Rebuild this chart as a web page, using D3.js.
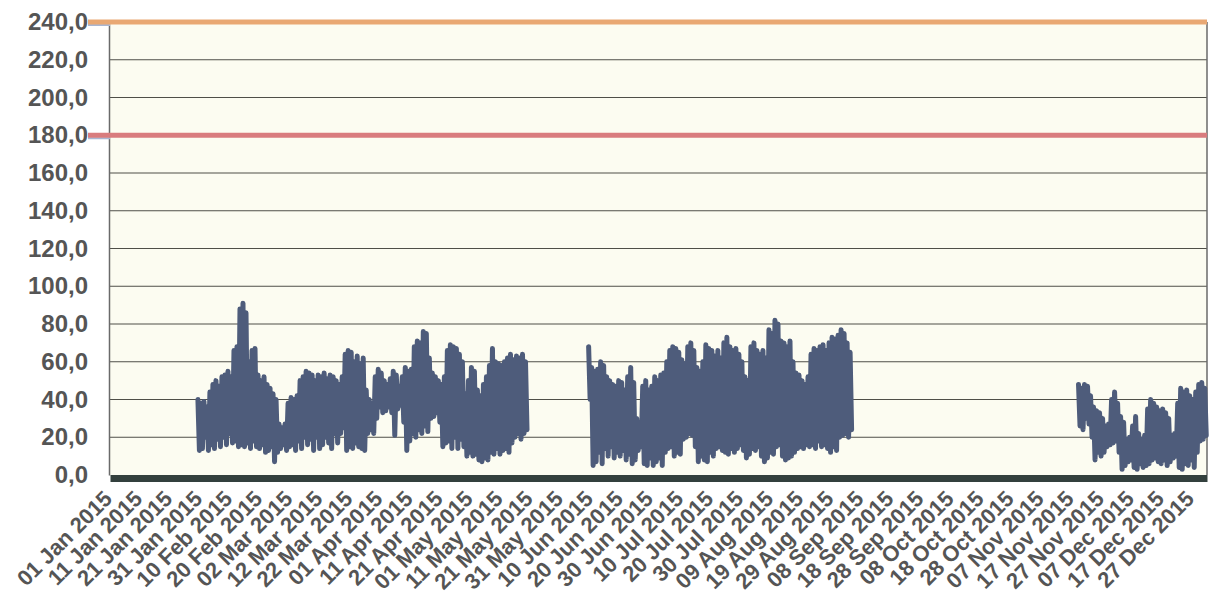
<!DOCTYPE html>
<html>
<head>
<meta charset="utf-8">
<script src="https://cdn.jsdelivr.net/npm/d3@7"></script>
<style>
  body { margin: 0; background: #fff; }
  text { font-family: "Liberation Sans", Arial, sans-serif; }
</style>
</head>
<body>
<div id="chart"></div>
<script>
var W = 1211, H = 604;
var plotLeft = 110, plotRight = 1207, plotTop = 22, plotBottom = 475;

// tick labels on the x axis (every 10 days)
var tickLabels = ["01 Jan 2015", "11 Jan 2015", "21 Jan 2015", "31 Jan 2015", "10 Feb 2015", "20 Feb 2015",
  "02 Mar 2015", "12 Mar 2015", "22 Mar 2015", "01 Apr 2015", "11 Apr 2015", "21 Apr 2015",
  "01 May 2015", "11 May 2015", "21 May 2015", "31 May 2015", "10 Jun 2015", "20 Jun 2015",
  "30 Jun 2015", "10 Jul 2015", "20 Jul 2015", "30 Jul 2015", "09 Aug 2015", "19 Aug 2015",
  "29 Aug 2015", "08 Sep 2015", "18 Sep 2015", "28 Sep 2015", "08 Oct 2015", "18 Oct 2015",
  "28 Oct 2015", "07 Nov 2015", "17 Nov 2015", "27 Nov 2015", "07 Dec 2015", "17 Dec 2015",
  "27 Dec 2015"];
var yTicks = [0, 20, 40, 60, 80, 100, 120, 140, 160, 180, 200, 220, 240];
var limitValues = [180, 240];

// daily high / low of the measured series, three recorded periods
var seg1Start = "2015-01-30";
var seg1High = [40, 38, 39, 36, 44, 48, 50, 47, 52, 53,
  55, 52, 66, 68, 88, 91, 86, 60, 66, 67,
  53, 50, 52, 48, 46, 43, 40, 27, 25, 27,
  38, 41, 40, 42, 50, 52, 55, 54, 53, 50,
  53, 52, 54, 51, 53, 52, 50, 48, 52, 64,
  66, 65, 60, 63, 59, 62, 45, 40, 38, 52,
  56, 54, 50, 48, 51, 55, 53, 47, 52, 57,
  55, 56, 68, 71, 70, 76, 75, 62, 54, 52,
  50, 48, 52, 66, 69, 68, 67, 64, 60, 43,
  50, 57, 55, 45, 42, 48, 52, 58, 67, 60,
  59, 58, 60, 62, 64, 61, 63, 62, 64, 60];
var seg1Low = [13, 14, 20, 13, 16, 14, 19, 15, 20, 16,
  22, 17, 18, 15, 16, 15, 17, 14, 18, 15,
  14, 16, 12, 13, 15, 7, 12, 14, 16, 13,
  15, 16, 13, 18, 14, 20, 16, 19, 13, 20,
  14, 16, 20, 17, 14, 22, 17, 22, 25, 13,
  15, 14, 17, 15, 14, 13, 22, 24, 22, 30,
  36, 33, 34, 36, 33, 21, 35, 37, 28, 13,
  18, 22, 20, 24, 22, 26, 23, 30, 31, 33,
  28, 15, 17, 18, 14, 20, 14, 19, 15, 10,
  12, 10, 11, 8, 7, 9, 8, 12, 11, 14,
  11, 13, 14, 12, 17, 20, 22, 19, 22, 24];

var seg2Start = "2015-06-09";
var seg2High = [68, 57, 55, 56, 60, 58, 52, 50, 48, 47,
  50, 49, 45, 52, 57, 49, 30, 28, 47, 50,
  45, 47, 52, 50, 53, 54, 60, 66, 68, 67,
  65, 61, 59, 68, 70, 66, 57, 55, 60, 69,
  67, 66, 63, 66, 62, 70, 73, 68, 66, 67,
  64, 60, 52, 50, 68, 70, 66, 64, 66, 62,
  77, 75, 82, 80, 71, 70, 68, 71, 60, 54,
  53, 50, 48, 52, 64, 67, 66, 68, 69, 66,
  70, 73, 72, 74, 77, 75, 70, 65];
var seg2Low = [40, 5, 7, 12, 6, 14, 10, 15, 9, 12,
  10, 13, 8, 11, 6, 8, 13, 15, 6, 5,
  9, 5, 7, 9, 5, 12, 14, 15, 10, 12,
  11, 19, 20, 22, 21, 15, 7, 10, 8, 7,
  12, 10, 14, 15, 13, 12, 11, 14, 12, 14,
  16, 13, 9, 11, 14, 13, 15, 10, 7, 9,
  12, 11, 15, 16, 10, 8, 9, 10, 12, 14,
  15, 14, 16, 15, 16, 14, 18, 15, 16, 14,
  12, 15, 13, 20, 21, 22, 20, 24];

var seg3Start = "2015-11-19";
var seg3High = [48, 46, 48, 47, 42, 36, 34, 33, 30, 26,
  27, 40, 44, 38, 31, 28, 19, 20, 26, 31,
  22, 19, 21, 35, 40, 38, 36, 34, 35, 33,
  30, 21, 22, 38, 46, 44, 45, 42, 40, 44,
  48, 49, 46];
var seg3Low = [26, 24, 30, 27, 20, 8, 12, 10, 12, 15,
  16, 17, 18, 12, 3, 5, 7, 8, 4, 3,
  6, 4, 5, 6, 8, 9, 7, 6, 8, 5,
  7, 9, 10, 4, 3, 6, 5, 8, 4, 12,
  18, 19, 21];

var parseIso = d3.timeParse("%Y-%m-%d");
var parseTick = d3.timeParse("%d %b %Y");

// build zigzag points: high then low within each day
function buildSeg(start, highs, lows) {
  var t0 = parseIso(start);
  var pts = [];
  for (var i = 0; i < highs.length; ++i) {
    var day = d3.timeDay.offset(t0, i);
    pts.push({ t: d3.timeHour.offset(day, 6), v: highs[i] });
    pts.push({ t: d3.timeHour.offset(day, 18), v: lows[i] });
  }
  return pts;
}
var segments = [
  buildSeg(seg1Start, seg1High, seg1Low),
  buildSeg(seg2Start, seg2High, seg2Low),
  buildSeg(seg3Start, seg3High, seg3Low)
];

var xScale = d3.scaleTime()
  .domain([parseIso("2015-01-01"), parseIso("2016-01-01")])
  .range([plotLeft, plotRight]);
var yScale = d3.scaleLinear().domain([0, 240]).range([plotBottom, plotTop]);

var locale = d3.formatLocale({ decimal: ",", thousands: ".", grouping: [3], currency: ["", ""] });
var fmt = locale.format(".1f");

var svg = d3.select("#chart").append("svg")
  .attr("width", W)
  .attr("height", H);

svg.append("rect").attr("width", W).attr("height", H).attr("fill", "#ffffff");

// plot background
svg.append("rect")
  .attr("x", plotLeft)
  .attr("y", plotTop)
  .attr("width", plotRight - plotLeft)
  .attr("height", plotBottom - plotTop)
  .attr("fill", "#fcfcf1");

// grid lines
svg.selectAll("line.grid")
  .data(yTicks.filter(function (d) { return d > 0 && limitValues.indexOf(d) < 0; }))
  .enter()
  .append("line")
  .attr("class", "grid")
  .attr("x1", plotLeft)
  .attr("x2", plotRight)
  .attr("y1", function (d) { return yScale(d); })
  .attr("y2", function (d) { return yScale(d); })
  .style("stroke", "#4f4f48")
  .style("stroke-width", 1.2);

// right border + y axis line
svg.append("line")
  .attr("x1", plotRight).attr("x2", plotRight)
  .attr("y1", plotTop).attr("y2", plotBottom)
  .style("stroke", "#6a6a6a")
  .style("stroke-width", 1.5);

svg.append("g")
  .attr("transform", "translate(" + (plotLeft - 1) + ",0)")
  .call(d3.axisLeft(yScale).tickValues(yTicks).tickSize(0).tickPadding(21).tickFormat(fmt))
  .call(function (g) {
    g.select(".domain").style("stroke", "#6a6a6a").style("stroke-width", 1.5);
    g.selectAll("text")
      .attr("font-size", "24px")
      .attr("font-weight", "bold")
      .attr("fill", "#555")
      .style("font-family", "'Liberation Sans', Arial, sans-serif");
  });

// data series
var line = d3.line()
  .x(function (d) { return xScale(d.t); })
  .y(function (d) { return yScale(d.v); });

svg.selectAll("path.series")
  .data(segments)
  .enter()
  .append("path")
  .attr("class", "series")
  .attr("d", line)
  .style("fill", "none")
  .style("stroke", "#4e5c7b")
  .style("stroke-width", 5)
  .style("stroke-linejoin", "round")
  .style("stroke-linecap", "round");

// limit lines 180 and 240
var limitColors = ["#d97c7e", "#e9a873"];
svg.selectAll("line.tab")
  .data(limitValues)
  .enter()
  .append("line")
  .attr("class", "tab")
  .attr("x1", 88)
  .attr("x2", plotLeft)
  .attr("y1", function (d) { return yScale(d) + 3; })
  .attr("y2", function (d) { return yScale(d) + 3; })
  .style("stroke", "#a9b6d2")
  .style("stroke-width", 2);

svg.selectAll("line.limit")
  .data(limitValues)
  .enter()
  .append("line")
  .attr("class", "limit")
  .attr("x1", 88)
  .attr("x2", plotRight)
  .attr("y1", function (d) { return yScale(d); })
  .attr("y2", function (d) { return yScale(d); })
  .style("stroke", function (d, i) { return limitColors[i]; })
  .style("stroke-width", 5);

// x axis: thick dark base band + rotated date labels
var tickDates = tickLabels.map(function (s) { return parseTick(s); });
svg.append("g")
  .attr("transform", "translate(0," + (plotBottom + 3) + ")")
  .call(d3.axisBottom(xScale).tickValues(tickDates).tickSize(0).tickSizeOuter(0)
    .tickFormat(function (d, i) { return tickLabels[i]; }))
  .call(function (g) {
    g.select(".domain").style("stroke", "#33403d").style("stroke-width", 7);
    g.selectAll("text")
      .attr("y", 0)
      .attr("dy", 0)
      .attr("transform", "translate(3,22) rotate(-45)")
      .style("text-anchor", "end")
      .attr("font-size", "22px")
      .attr("font-weight", "bold")
      .attr("fill", "#555")
      .style("font-family", "'Liberation Sans', Arial, sans-serif");
  });
</script>
</body>
</html>
